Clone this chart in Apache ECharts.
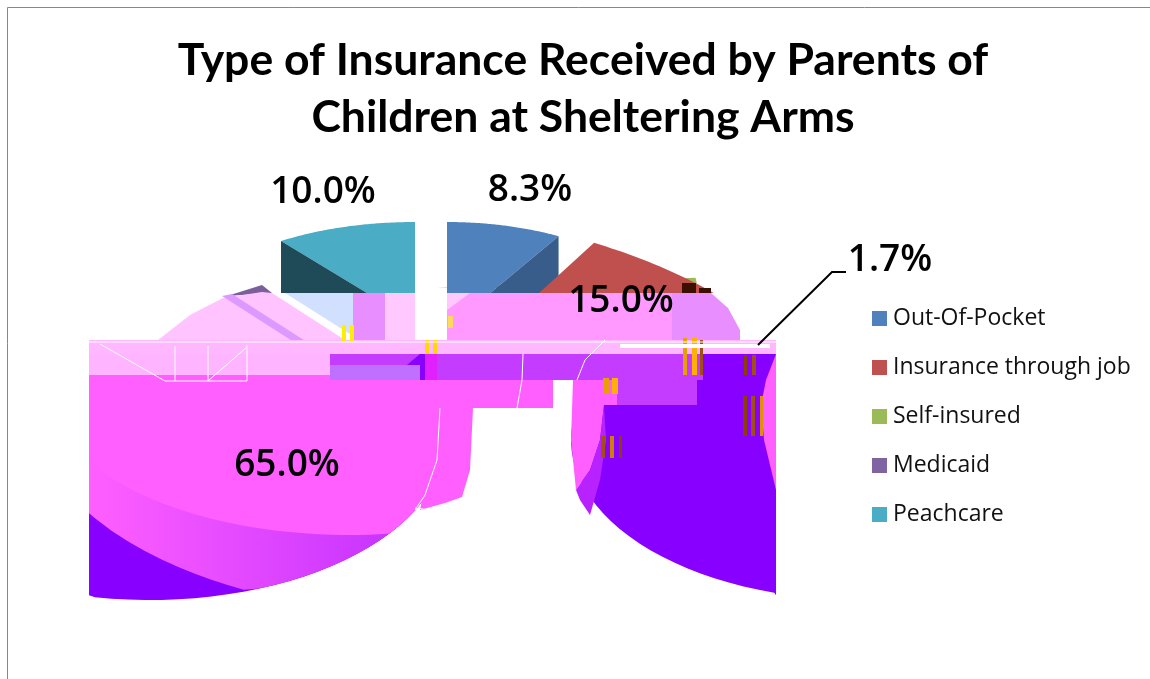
<!DOCTYPE html>
<html><head><meta charset="utf-8">
<style>html,body{margin:0;padding:0;background:#fff}#c{width:1150px;height:679px}</style>
<script src="https://cdn.jsdelivr.net/npm/echarts@6/dist/echarts.min.js"></script>
</head><body><div id="c"></div>
<script>
const categories = ['Out-Of-Pocket','Insurance through job','Self-insured','Medicaid','Peachcare'];
const shares = [8.3,15.0,1.7,65.0,10.0];
const legendColors = ['#4F81BD','#C0504D','#9BBB59','#8064A2','#4BACC6'];
const wallColors = ['#385D8A','#8C3836','#6E8540','#5C4776','#1F4A58'];

// placement of each exploded slice (apex, radii, which edge shows its wall)
const placement = [
  {cx:447,cy:329,rx:224,ry:107,wall:'end'},
  {cx:345,cy:470,rx:500,ry:262,wall:null},
  {cx:437,cy:288,rx:260,ry:96,wall:null},
  {cx:150,cy:440,rx:295,ry:160,wall:null},
  {cx:415,cy:322,rx:228,ry:100,wall:'start'}
];
const secondLobe = {cx:860,rx:289};
const labelSpots = [[530,190],[621,301],[890,260],[287,465],[323,192]];
const clipBox = {x0:89,x1:776,y0:375};
const upperFloor = 293;

// Rendering artefacts of the source picture (not data)
const R=(x,y,w,h,c)=>({type:'rect',z:5,silent:true,shape:{x,y,width:w,height:h},style:{fill:c}});
const P=(pts,c)=>({type:'polygon',z:5,silent:true,shape:{points:pts},style:{fill:c}});
const L=(pts,c,w)=>({type:'polyline',z:6,silent:true,shape:{points:pts},style:{stroke:c,lineWidth:w||1,fill:'none'}});
const artefacts = [
  P([[227,296],[262,285],[272,293]],'#7A5F9A'),
  P([[158,340],[190,315],[223,298],[262,292],[272,293],[345,340],[345,343],[158,343]],'#FFC4FF'),
  P([[222,296],[232,294],[335,360],[325,362]],'#DD99FF'),
  P([[285,293],[353,293],[353,336]],'#D2E0FF'),
  R(353,293,32,50,'#E88EFF'), R(385,293,30,50,'#FFC8FF'),
  P([[447,293],[680,293],[680,343],[447,343]],'#FF99FF'),
  P([[447,293],[470,293],[447,310]],'#FFC8FF'),
  P([[672,293],[711,293],[728,308],[740,330],[740,343],[672,343]],'#E88EFF'),
  R(89,340,687,14,'#FFB8FF'),
  R(89,354,241,21,'#FFB4FF'),
  R(330,354,446,26,'#C33CFF'),
  P([[395,375],[420,354],[425,354],[425,380],[335,380],[335,375]],'#8800FF'),
  R(425,354,12,26,'#E020FF'),
  R(703,354,73,26,'#8800FF'),
  R(600,380,176,80,'#8800FF'),
  R(89,375,241,5,'#FF5FFF'),
  R(89,380,464,28,'#FF5FFF'),
  R(89,408,351,40,'#FF5FFF'),
  P([[440,408],[473,408],[470,470],[462,497],[445,503],[420,510]],'#FF5FFF'),
  P([[573,380],[617,380],[617,405],[604,405],[600,440],[590,470],[576,490],[571,440]],'#FF5FFF'),
  P([[604,405],[600,440],[590,470],[576,490],[580,500],[590,515],[600,480],[606,440]],'#B822FF'),
  R(617,380,80,25,'#C33CFF'),
  P([[776,354],[766,380],[761,405],[764,440],[776,490]],'#FF5FFF'),
  R(330,365,90,15,'#C070FF'),
  R(342,325,4,16,'#FFEE00'), R(350,325,4,16,'#FFEE00'),
  R(425,340,4,14,'#FFD800'), R(433,340,4,14,'#FFD800'),
  R(448,316,5,12,'#FFD860'),
  R(683,338,4,37,'#E8A000'), R(692,338,5,37,'#FFB000'), R(700,340,3,35,'#A05010'),
  R(744,355,3,20,'#8B4000'), R(752,355,4,20,'#A05010'),
  R(601,436,4,22,'#A05010'), R(610,436,4,22,'#D08000'), R(619,436,3,22,'#8B4000'),
  R(743,396,4,40,'#8B4000'), R(751,396,4,40,'#A05010'), R(760,396,3,40,'#E09000'),
  R(603,378,6,16,'#E8A000'), R(612,378,6,16,'#FFB000'),
  R(682,283,14,10,'#3C1000'), R(699,288,12,5,'#3C1000'),
  L([[89,342],[776,342]],'#FFFFFF',1),
  L([[620,346],[770,346]],'#FFFFFF',4),
  L([[100,344],[165,381],[247,381],[247,345]],'#FFFFFF',1),
  L([[175,346],[175,381]],'#FFFFFF',1),
  L([[208,346],[208,381],[247,347]],'#FFFFFF',1),
  L([[440,408],[437,460],[425,495],[415,510]],'#FFFFFF',1),
  L([[523,354],[522,380],[517,408]],'#FFFFFF',1),
  L([[605,340],[585,360],[577,380]],'#FFFFFF',1),
  L([[415,508],[430,510]],'#FFFFFF',1)
];

function startAngle(i){ let s=0; for(let k=0;k<i;k++) s+=shares[k]; return s/100*Math.PI*2; }
function arc(p,a0,a1){
  const pts=[[p.cx,p.cy]], n=72;
  for(let k=0;k<=n;k++){ const a=a0+(a1-a0)*k/n; pts.push([p.cx+p.rx*Math.sin(a),p.cy-p.ry*Math.cos(a)]); }
  return pts;
}
const inBox=pts=>pts.map(([x,y])=>[Math.min(clipBox.x1,Math.max(clipBox.x0,x)),Math.max(clipBox.y0,y)]);
function above(pts){
  const out=[], f=upperFloor;
  pts.forEach((a,k)=>{
    const b=pts[(k+1)%pts.length];
    if(a[1]<=f) out.push(a);
    if((a[1]<=f)!==(b[1]<=f)){ const t=(f-a[1])/(b[1]-a[1]); out.push([a[0]+(b[0]-a[0])*t,f]); }
  });
  return out;
}
const ell=(x,cx,cy,rx,ry)=>{const t=(x-cx)/rx;return cy+ry*Math.sqrt(Math.max(0,1-t*t));};

function renderSlice(i){
  return function(){
    const a0=startAngle(i), a1=a0+shares[i]/100*Math.PI*2, p=placement[i];
    const children=[];
    if(categories[i]==='Medicaid'){
      const left=inBox(arc(p,a0,a1));
      const right=inBox(arc(Object.assign({},p,secondLobe),a0,a1));
      children.push({type:'polygon',shape:{points:right},style:{fill:'#8800FF'}});
      children.push({type:'polygon',shape:{points:left},style:{fill:'#8800FF'}});
      const band=left.map(([x,y])=>[x,Math.min(y,ell(x,430,403,400,211))]);
      children.push({type:'polygon',shape:{points:band},style:{fill:{type:'linear',x:0,y:0,x2:1,y2:0,colorStops:[{offset:0,color:'#FF5FFF'},{offset:1,color:'#BE2CFF'}]}}});
      const top=left.map(([x,y])=>[x,Math.min(y,ell(x,350,391,300,144))]);
      children.push({type:'polygon',shape:{points:top},style:{fill:'#FF5FFF'}});
    } else {
      const pts=arc(p,a0,a1);
      children.push({type:'polygon',shape:{points:above(pts)},style:{fill:legendColors[i]}});
      if(p.wall){
        const rim=p.wall==='end'?pts[pts.length-1]:pts[1], d=120;
        children.push({type:'polygon',shape:{points:above([rim,[rim[0],rim[1]+d],[p.cx,p.cy+d],[p.cx,p.cy]])},style:{fill:wallColors[i]}});
      }
    }
    return {type:'group',children};
  };
}
function renderLabels(params){
  const i=params.dataIndex, s=labelSpots[i], c=[];
  if(categories[i]==='Self-insured') c.push({type:'polyline',shape:{points:[[758,345],[832,272],[846,272]]},style:{stroke:'#000',lineWidth:2,fill:'none'}});
  c.push({type:'text',x:s[0],y:s[1],style:{text:shares[i].toFixed(1)+'%',fill:'#000',font:'600 37px "Open Sans"',align:'center',verticalAlign:'middle'}});
  return {type:'group',children:c};
}
const zOf=[3,3,2,4,3];
const series=categories.map((name,i)=>({type:'custom',name,coordinateSystem:'none',silent:true,z:zOf[i],data:[shares[i]],itemStyle:{color:legendColors[i]},renderItem:renderSlice(i),animation:false}));
series.push({type:'custom',name:'labels',coordinateSystem:'none',silent:true,z:10,data:shares,renderItem:renderLabels,animation:false});

const chart=echarts.init(document.getElementById('c'),null,{renderer:'canvas'});
chart.setOption({
  animation:false,
  backgroundColor:'#fff',
  title:{text:'Type of Insurance Received by Parents of\nChildren at Sheltering Arms',left:578,textAlign:'center',top:27,
    textStyle:{fontFamily:'Lato',fontWeight:'bold',fontSize:44.5,lineHeight:57,color:'#000'}},
  legend:{data:categories,orient:'vertical',left:867,top:299,itemWidth:15,itemHeight:15,itemGap:20,icon:'rect',
    textStyle:{fontFamily:'"Open Sans"',fontSize:23,color:'#111',padding:[0,0,0,1],height:29,lineHeight:29}},
  graphic:[{type:'polyline',z:7,silent:true,shape:{points:[[7.5,679],[7.5,7.5],[1150,7.5]]},style:{stroke:'#888',lineWidth:1,fill:'none'}}].concat(artefacts),
  series
});
</script></body></html>
